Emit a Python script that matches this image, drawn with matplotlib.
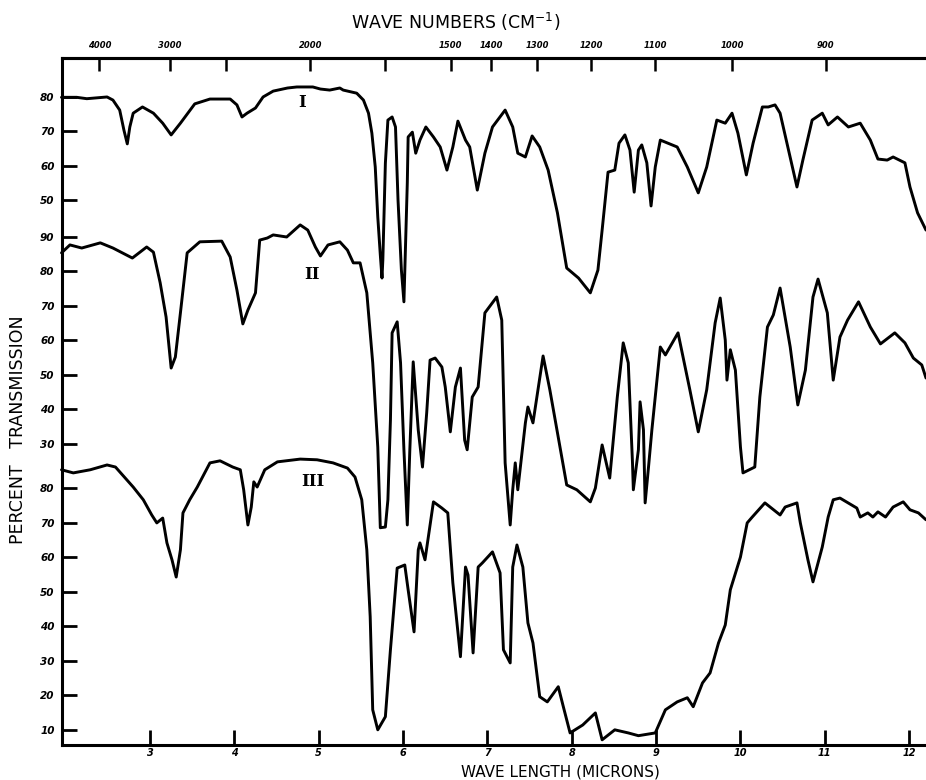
import numpy as np
import matplotlib
matplotlib.use("Agg")
import matplotlib.pyplot as plt

# ---------------- data (wavelength in microns, percent transmission) -------------
wl_1 = [1.95, 2.13, 2.25, 2.49, 2.56, 2.64, 2.69, 2.73, 2.76, 2.80, 2.91, 3.04, 3.15, 3.25, 3.36,
        3.53, 3.71, 3.95, 4.03, 4.09, 4.15, 4.25, 4.34, 4.46, 4.63, 4.74, 4.93, 5.02, 5.13, 5.25,
        5.29, 5.45, 5.53, 5.59, 5.63, 5.67, 5.70, 5.73, 5.75, 5.76, 5.79, 5.82, 5.87, 5.91, 5.94,
        5.98, 6.01, 6.05, 6.06, 6.11, 6.15, 6.20, 6.27, 6.36, 6.44, 6.52, 6.59, 6.65, 6.74, 6.79,
        6.88, 6.97, 7.06, 7.21, 7.30, 7.36, 7.45, 7.53, 7.62, 7.72, 7.83, 7.94, 8.08, 8.22, 8.31,
        8.36, 8.43, 8.51, 8.56, 8.63, 8.69, 8.74, 8.79, 8.83, 8.89, 8.94, 8.99, 9.05, 9.14, 9.25,
        9.37, 9.50, 9.60, 9.72, 9.82, 9.90, 9.97, 10.07, 10.15, 10.26, 10.33, 10.41, 10.47, 10.57,
        10.67, 10.74, 10.85, 10.97, 11.04, 11.15, 11.28, 11.42, 11.54, 11.63, 11.74, 11.81, 11.95,
        12.01, 12.10, 12.20]
tr_1 = [79.8, 79.8, 79.4, 79.9, 79.0, 76.1, 70.3, 66.3, 71.2, 75.2, 77.0, 75.2, 72.3, 68.9, 72.3,
        77.9, 79.3, 79.3, 77.6, 74.1, 75.2, 76.7, 79.9, 81.6, 82.5, 82.8, 82.8, 82.2, 81.9, 82.5,
        81.9, 81.0, 79.0, 75.2, 69.4, 59.6, 45.1, 34.1, 27.4, 32.6, 60.7, 73.2, 74.1, 71.2, 50.0,
        29.7, 20.5, 55.0, 68.3, 69.7, 63.6, 67.4, 71.2, 68.3, 65.4, 58.7, 65.4, 72.9, 67.4, 65.4,
        52.9, 63.6, 71.2, 76.1, 71.2, 63.6, 62.5, 68.6, 65.4, 58.7, 46.3, 30.3, 27.4, 23.1, 29.7,
        41.3, 58.1, 58.7, 66.5, 68.9, 64.5, 52.3, 64.5, 66.0, 60.8, 48.3, 59.6, 67.4, 66.5, 65.4,
        59.6, 52.1, 59.6, 73.2, 72.3, 75.2, 69.4, 57.3, 66.5, 77.0, 77.0, 77.6, 75.2, 64.5,
        53.8, 61.6, 73.2, 75.2, 71.8, 74.1, 71.2, 72.3, 67.4, 61.9, 61.6, 62.5, 60.8,
        53.8, 46.3, 41.3]

wl_2 = [1.95, 2.05, 2.19, 2.41, 2.56, 2.79, 2.96, 3.04, 3.12, 3.19, 3.25, 3.30, 3.36, 3.44, 3.59,
        3.85, 3.95, 4.03, 4.10, 4.16, 4.25, 4.30, 4.39, 4.46, 4.62, 4.78, 4.87, 4.96, 5.02, 5.11,
        5.25, 5.34, 5.41, 5.49, 5.57, 5.64, 5.70, 5.73, 5.79, 5.82, 5.85, 5.87, 5.93, 5.97, 6.01,
        6.05, 6.08, 6.12, 6.18, 6.23, 6.28, 6.32, 6.38, 6.46, 6.50, 6.56, 6.62, 6.68, 6.73, 6.76,
        6.82, 6.89, 6.97, 7.11, 7.17, 7.21, 7.27, 7.30, 7.33, 7.36, 7.45, 7.48, 7.54, 7.60, 7.66,
        7.74, 7.83, 7.94, 8.06, 8.22, 8.28, 8.36, 8.45, 8.54, 8.61, 8.67, 8.72, 8.73, 8.79, 8.81,
        8.85, 8.87, 8.91, 8.95, 9.05, 9.11, 9.26, 9.40, 9.50, 9.60, 9.70, 9.76, 9.82, 9.84, 9.88,
        9.94, 10.00, 10.03, 10.17, 10.23, 10.32, 10.39, 10.47, 10.59, 10.68, 10.77, 10.86, 10.92,
        11.03, 11.10, 11.18, 11.27, 11.40, 11.54, 11.66, 11.83, 11.95, 12.05, 12.15, 12.20]
tr_2 = [85.3, 87.6, 86.7, 88.2, 86.7, 83.8, 87.0, 85.5, 76.6, 66.7, 51.9, 55.1, 67.9, 85.3, 88.5,
        88.7, 84.1, 74.5, 64.7, 68.7, 73.7, 89.0, 89.6, 90.5, 89.9, 93.4, 91.9, 87.0, 84.4, 87.6,
        88.5, 86.1, 82.4, 82.4, 73.7, 53.4, 29.0, 5.6, 5.8, 13.7, 36.8, 62.1, 65.3, 53.4, 28.2,
        6.4, 28.2, 53.7, 33.9, 23.2, 38.9, 54.2, 54.8, 52.2, 46.4, 33.4, 46.4, 51.9, 31.0, 28.2,
        43.5, 46.4, 67.9, 72.5, 65.8, 24.4, 6.4, 16.6, 24.4, 16.6, 36.0, 40.6, 36.0, 45.6, 55.4,
        45.6, 33.1, 18.0, 16.6, 13.1, 17.1, 29.6, 20.0, 43.5, 59.2, 53.4, 24.4, 16.6, 28.2, 42.1,
        34.0, 12.8, 23.2, 34.0, 58.0, 55.7, 62.1, 45.6, 33.4, 45.6, 65.0, 72.2, 60.0, 48.4, 57.2,
        51.3, 29.0, 21.5, 23.2, 43.5, 63.8, 67.3, 75.1, 58.0, 41.2, 51.3, 72.5, 77.7,
        67.9, 48.4, 60.9, 65.8, 71.1, 63.8, 58.9, 62.1, 59.2, 54.8, 52.8, 49.0]

wl_3 = [1.95, 2.09, 2.29, 2.49, 2.59, 2.80, 2.92, 3.02, 3.08, 3.15, 3.20, 3.26, 3.31, 3.36, 3.39,
        3.47, 3.56, 3.71, 3.83, 3.98, 4.07, 4.11, 4.16, 4.20, 4.23, 4.27, 4.36, 4.51, 4.78, 4.98,
        5.17, 5.34, 5.43, 5.51, 5.57, 5.61, 5.64, 5.70, 5.79, 5.85, 5.93, 6.02, 6.06, 6.13, 6.18,
        6.20, 6.26, 6.36, 6.46, 6.53, 6.59, 6.68, 6.74, 6.77, 6.83, 6.89, 6.94, 7.06, 7.15, 7.19,
        7.27, 7.30, 7.35, 7.42, 7.48, 7.54, 7.62, 7.71, 7.84, 7.90, 7.98, 8.13, 8.28, 8.36, 8.51,
        8.67, 8.79, 8.99, 9.11, 9.25, 9.37, 9.44, 9.55, 9.64, 9.74, 9.82, 9.88, 10.00, 10.08,
        10.14, 10.29, 10.47, 10.53, 10.67, 10.71, 10.80, 10.86, 10.97, 11.04, 11.10, 11.18, 11.38,
        11.42, 11.51, 11.57, 11.63, 11.72, 11.81, 11.93, 12.01, 12.11, 12.20]
tr_3 = [85.4, 84.5, 85.4, 86.8, 86.2, 80.4, 76.7, 72.3, 70.0, 71.4, 64.2, 59.3, 54.3, 62.2, 72.9,
        76.7, 80.4, 87.4, 88.0, 86.2, 85.4, 79.6, 69.4, 74.6, 81.9, 80.4, 85.4, 87.7, 88.5, 88.3,
        87.4, 85.9, 83.3, 76.7, 62.2, 42.8, 15.8, 10.0, 13.8, 33.2, 56.9, 57.8, 50.6, 38.4, 62.2,
        64.2, 59.3, 76.1, 74.3, 72.9, 52.6, 31.2, 57.2, 54.9, 32.3, 57.2, 58.4, 61.6, 55.5, 33.2,
        29.4, 57.2, 63.6, 57.2, 41.0, 35.2, 19.6, 18.1, 22.5, 16.7, 9.1, 11.4, 14.9, 7.1, 10.0,
        9.1, 8.3, 9.1, 15.8, 18.1, 19.3, 16.7, 23.6, 26.5, 35.2, 40.4, 50.6, 60.1, 70.0,
        71.7, 75.8, 72.3, 74.6, 75.8, 70.0, 59.3, 52.9, 63.0, 71.7, 76.7, 77.2, 74.3,
        71.7, 72.9, 71.7, 73.2, 71.7, 74.6, 76.1, 73.8, 72.9, 70.9]

spectrum_names = ["I", "II", "III"]
# vertical stacking of the three curves on the chart (in percent units)
offsets = [113.6, 63.0, 0.0]
ticks_1 = [80, 70, 60, 50]
ticks_2 = [90, 80, 70, 60, 50, 40, 30]
ticks_3 = [80, 70, 60, 50, 40, 30, 20, 10]
micron_ticks = [3, 4, 5, 6, 7, 8, 9, 10, 11, 12]
wn_ticks = [4000, 3000, 2500, 2000, 1700, 1500, 1400, 1300, 1200, 1100, 1000, 900]
wn_labels = ["4000", "3000", "", "2000", "", "1500", "1400", "1300", "1200", "1100", "1000", "900"]
label_pos = [(4.80, 192.0), (4.92, 141.9), (4.93, 81.9)]
# the printed wave-number scale sits slightly left of the true position
wn_shift = 0.1

# ---------------- figure -------------
W, H = 926, 780
fig = plt.figure(figsize=(W / 100, H / 100), dpi=100)
left_px, right_px, top_px, bottom_px = 61.5, 926, 58, 745
ax = fig.add_axes([left_px / W, 1 - bottom_px / H, (right_px - left_px) / W, (bottom_px - top_px) / H])

lw = 2.1
for wl, tr, off in zip([wl_1, wl_2, wl_3], [tr_1, tr_2, tr_3], offsets):
    ax.plot(wl, np.array(tr) + off, color="black", lw=lw, solid_joinstyle="round",
            solid_capstyle="round", clip_on=False)

ax.set_xlim(1.95, 12.20)
ax.set_ylim(5.6, 204.8)

# left ticks for the three stacked scales
ypos, ylab = [], []
for t_list, off in zip([ticks_1, ticks_2, ticks_3], offsets):
    for t in t_list:
        ypos.append(t + off)
        ylab.append(str(t))
ax.set_yticks(ypos)
ax.set_yticklabels(ylab, fontsize=7.5, fontweight="bold", fontstyle="italic")
ax.tick_params(axis="y", direction="in", length=11, width=2, pad=5)

ax.set_xticks(micron_ticks)
ax.set_xticklabels([str(m) for m in micron_ticks], fontsize=7, fontweight="bold", fontstyle="italic")
ax.tick_params(axis="x", direction="in", length=11, width=2, pad=2)

for s in ["left", "bottom", "top"]:
    ax.spines[s].set_linewidth(2.2)
ax.spines["right"].set_visible(False)

secax = ax.secondary_xaxis("top", functions=(lambda x: 1e4 / (x + wn_shift),
                                              lambda w: 1e4 / w - wn_shift))
secax.set_xticks(wn_ticks)
secax.set_xticklabels(wn_labels, fontsize=6, fontweight="bold", fontstyle="italic")
secax.tick_params(axis="x", direction="in", length=9, width=1.8, pad=6)
secax.spines["top"].set_linewidth(2.2)

for name, (x, y) in zip(spectrum_names, label_pos):
    ax.text(x, y, name, fontsize=12, family="DejaVu Serif", fontweight="bold",
            ha="center", va="center")

fig.text(456 / W, 1 - 22 / H, "WAVE NUMBERS (CM$^{-1}$)", fontsize=12.5, ha="center", va="center")
fig.text(560 / W, 1 - 772 / H, "WAVE LENGTH (MICRONS)", fontsize=11, ha="center", va="center")
fig.text(18 / W, 1 - 430 / H, "PERCENT   TRANSMISSION", fontsize=12.5, rotation=90,
         ha="center", va="center")

fig.savefig("out.png", dpi=100)
